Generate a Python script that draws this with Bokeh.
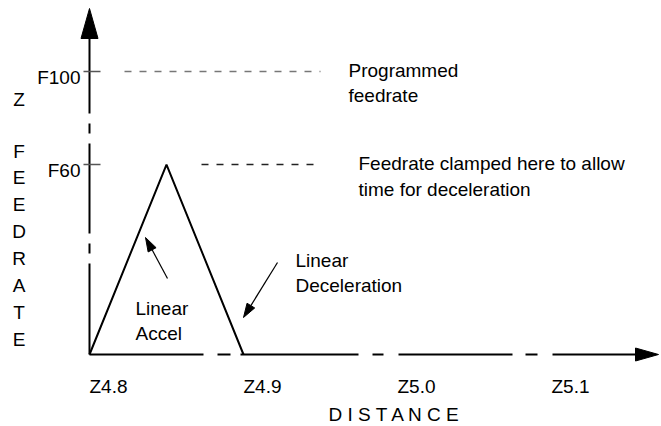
from bokeh.plotting import figure
from bokeh.models import Range1d
from bokeh.core.properties import value
from bokeh.embed import file_html
from bokeh.resources import INLINE

# ---------------- data ----------------
distance_ticks = [4.8, 4.9, 5.0, 5.1]
distance_labels = ["Z4.8", "Z4.9", "Z5.0", "Z5.1"]
feed_tick_levels = [100.0, 67.1]          # drawn heights of the feed ticks (diagram is not to scale)
feed_tick_labels = ["F100", "F60"]
profile_distance = [4.8, 4.85, 4.9]       # linear accel then linear decel
profile_feed = [0.0, 67.1, 0.0]
programmed_level = 100.0
clamped_level = 67.1

# ---------------- layout helpers ----------------
W, H = 661, 426
PX_PER_Z = 1540.0      # pixels per unit of Z
PX_PER_F = 2.83        # pixels per feed unit
ORIGIN_PX_X = 89       # canvas px of Z4.8
ORIGIN_PX_Y = 354      # canvas px of feed 0
TXT_SHIFT = 7.5        # renderer places text centre at the anchor

x_start = 4.8 - ORIGIN_PX_X / PX_PER_Z
x_end = x_start + W / PX_PER_Z
y_end = ORIGIN_PX_Y / PX_PER_F
y_start = y_end - H / PX_PER_F


def dx(px):
    return x_start + px / PX_PER_Z


def dy(py):
    return y_end - py / PX_PER_F


def ty(baseline_py):
    return dy(baseline_py - TXT_SHIFT)


FONT = value("Liberation Sans")
FS = "19px"

p = figure(width=W, height=H, output_backend="svg", toolbar_location=None,
           x_axis_type=None, y_axis_type=None,
           x_range=Range1d(x_start, x_end), y_range=Range1d(y_start, y_end),
           min_border=0, min_border_left=0, min_border_right=0,
           min_border_top=0, min_border_bottom=0)
p.outline_line_color = None
p.background_fill_color = "white"
p.border_fill_color = "white"

# ---------------- axes (broken lines) ----------------
y_axis_pieces = [(36, 113), (123, 133), (143, 233), (243, 253), (263, 354)]
p.segment(x0=[4.8] * len(y_axis_pieces), x1=[4.8] * len(y_axis_pieces),
          y0=[dy(a) for a, b in y_axis_pieces], y1=[dy(b) for a, b in y_axis_pieces],
          line_color="black", line_width=2)

x_axis_pieces = [(89, 203), (217, 230), (240, 358), (372, 383), (398, 512), (525, 537), (552, 638)]
p.segment(x0=[dx(a) for a, b in x_axis_pieces], x1=[dx(b) for a, b in x_axis_pieces],
          y0=[0.0] * len(x_axis_pieces), y1=[0.0] * len(x_axis_pieces),
          line_color="black", line_width=2)

# arrow heads of the axes
p.patch(x=[4.8, dx(80.5), dx(97.5)], y=[dy(8), dy(38), dy(38)], fill_color="black", line_color="black")
p.patch(x=[dx(658), dx(635), dx(635)], y=[0.0, dy(347.5), dy(360.5)], fill_color="black", line_color="black")

# ---------------- feed ticks, level lines ----------------
p.segment(x0=[dx(83)] * 2, x1=[dx(100)] * 2, y0=feed_tick_levels, y1=feed_tick_levels,
          line_color="#555555", line_width=1.5)
p.text(x=[4.8] * 2, y=feed_tick_levels, text=feed_tick_labels, x_offset=-9, y_offset=13.5 - TXT_SHIFT,
       text_align="right", text_baseline="alphabetic", text_font=FONT, text_font_size=FS,
       text_color="black")

p.line(x=[dx(124), dx(320)], y=[programmed_level] * 2, line_color="#777777",
       line_width=1.5, line_dash="7 8")
p.line(x=[dx(201), dx(320)], y=[clamped_level] * 2, line_color="#222222",
       line_width=1.5, line_dash="7 8")

# ---------------- feed profile ----------------
p.line(x=profile_distance, y=profile_feed, line_color="black", line_width=2)

# ---------------- distance tick labels ----------------
p.text(x=distance_ticks, y=[ty(393)] * 4, text=distance_labels, text_align="left",
       text_baseline="alphabetic", text_font=FONT, text_font_size=FS, text_color="black")
p.text(x=[dx(328)], y=[ty(421)], text=["D I S T A N C E"], text_align="left",
       text_baseline="alphabetic", text_font=FONT, text_font_size=FS, text_color="black")

# vertical axis title
vert_letters = ["Z", "F", "E", "E", "D", "R", "A", "T", "E"]
vert_base = [106] + [158 + 26.9 * i for i in range(8)]
p.text(x=[dx(18.5)] * len(vert_letters), y=[ty(b) for b in vert_base], text=vert_letters,
       text_align="center", text_baseline="alphabetic", text_font=FONT, text_font_size=FS,
       text_color="black")

# ---------------- annotations ----------------
notes = [
    ("Programmed", 348, 77), ("feedrate", 348, 102),
    ("Feedrate clamped here to allow", 358, 170), ("time for deceleration", 358, 196),
    ("Linear", 295, 267), ("Deceleration", 295, 292),
    ("Linear", 135, 315), ("Accel", 135, 340),
]
p.text(x=[dx(n[1]) for n in notes], y=[ty(n[2]) for n in notes], text=[n[0] for n in notes],
       text_align="left", text_baseline="alphabetic", text_font=FONT, text_font_size=FS,
       text_color="black")


def pointer(tail, tip, length=14, half=4.5):
    (sx, sy), (tx, tyy) = tail, tip
    vx, vy = tx - sx, tyy - sy
    n = (vx * vx + vy * vy) ** 0.5
    ux, uy = vx / n, vy / n
    bx, by = tx - length * ux, tyy - length * uy
    nx, ny = -uy, ux
    p.segment(x0=[dx(sx)], y0=[dy(sy)], x1=[dx(bx)], y1=[dy(by)], line_color="black", line_width=1.2)
    p.patch(x=[dx(tx), dx(bx + half * nx), dx(bx - half * nx)],
            y=[dy(tyy), dy(by + half * ny), dy(by - half * ny)],
            fill_color="black", line_color="black", line_width=1)


pointer((167, 278), (145, 237))
pointer((277, 262), (243, 317))

open("out.html", "w").write(file_html(p, INLINE))
